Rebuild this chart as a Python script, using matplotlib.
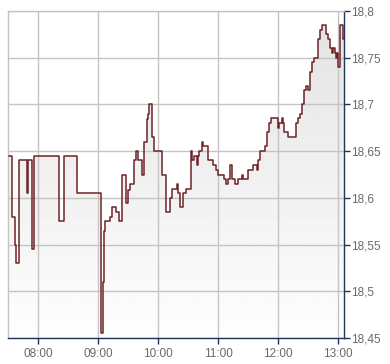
import numpy as np
import matplotlib
matplotlib.use("Agg")
import matplotlib.pyplot as plt
from matplotlib.patches import Polygon

# minutes after 07:30 and price (step changes)
minutes = [1, 3.5, 7.3, 8.3, 11.3, 18.5, 19.5, 24.3, 26.3, 51.3, 55.7, 68.7,
           92.7, 94.7, 95.7, 97.3, 102, 104.3, 108, 111, 114.3, 118.3, 120.3,
           122.3, 126.3, 128.3, 130.3, 134.3, 136.3, 138.7, 140.3, 141.3, 143.7,
           145.7, 153.7, 157.7, 161.7, 164.3, 168.7, 170.3, 172.3, 175.3, 178.3,
           183.3, 184.3, 186.3, 189.3, 190.3, 191.3, 194.3, 195.3, 200.3, 205.3,
           207.7, 210.3, 216.3, 218, 220.3, 222.3, 224.3, 227, 230.3, 233.7,
           235.3, 240.3, 245.3, 249, 250.3, 252.3, 257, 259.3, 261, 263, 270.3,
           271.3, 273.7, 275.3, 276.3, 280.3, 287.7, 289.7, 292, 294.3, 296.3,
           298.3, 299.7, 302, 303.7, 306.3, 310.3, 312, 313.7, 317.7, 320.3,
           322.3, 324, 325, 327, 328, 329, 330.3, 332.3, 335.3, 335.9]
prices = [18.645, 18.58, 18.55, 18.53, 18.64, 18.605, 18.64, 18.545, 18.645,
          18.575, 18.645, 18.605, 18.455, 18.51, 18.565, 18.575, 18.58, 18.59,
          18.585, 18.575, 18.625, 18.595, 18.608, 18.615, 18.64, 18.65, 18.64,
          18.625, 18.66, 18.684, 18.69, 18.7, 18.665, 18.65, 18.625, 18.585,
          18.6, 18.61, 18.615, 18.605, 18.59, 18.605, 18.61, 18.65, 18.64,
          18.645, 18.635, 18.645, 18.65, 18.66, 18.655, 18.64, 18.635, 18.63,
          18.625, 18.62, 18.615, 18.62, 18.635, 18.62, 18.615, 18.62, 18.625,
          18.62, 18.63, 18.635, 18.63, 18.64, 18.65, 18.655, 18.67, 18.68,
          18.685, 18.675, 18.68, 18.685, 18.68, 18.67, 18.665, 18.68, 18.685,
          18.69, 18.7, 18.715, 18.72, 18.715, 18.735, 18.745, 18.75, 18.77,
          18.78, 18.785, 18.775, 18.77, 18.76, 18.755, 18.76, 18.755, 18.75,
          18.755, 18.74, 18.785, 18.77, 18.77]

xtick_pos = [30, 90, 150, 210, 270, 330]
xtick_lab = ["08:00", "09:00", "10:00", "11:00", "12:00", "13:00"]
ytick_pos = [18.45, 18.5, 18.55, 18.6, 18.65, 18.7, 18.75, 18.8]
ytick_lab = ["18,45", "18,5", "18,55", "18,6", "18,65", "18,7", "18,75", "18,8"]

plt.rcParams['font.family'] = ['Liberation Sans', 'DejaVu Sans']

fig = plt.figure(figsize=(3.9, 3.64), dpi=100)
ax = fig.add_axes([8/390, 26/364, 336/390, 327/364])
x0, x1 = 0, 336
y0, y1 = 18.45, 18.8
ax.set_xlim(x0, x1)
ax.set_ylim(y0, y1)

# step polygon for the gradient fill
xs = np.array(minutes)
ys = np.array(prices)
px = np.repeat(xs, 2)[1:]
py = np.repeat(ys, 2)[:-1]
verts = np.column_stack([np.concatenate([[px[0]], px, [px[-1]]]),
                         np.concatenate([[y0], py, [y0]])])
poly = Polygon(verts, closed=True, facecolor='none', edgecolor='none')
ax.add_patch(poly)
grad = np.linspace(0.995, 0.89, 256).reshape(-1, 1)
im = ax.imshow(grad, extent=[x0, x1, y0, y1], origin='lower', aspect='auto',
               cmap='gray', vmin=0, vmax=1, zorder=0.2, interpolation='bilinear')
im.set_clip_path(poly)

ax.step(xs, ys, where='post', color='#6e2327', lw=1.1, zorder=3)

ax.set_xticks(xtick_pos)
ax.set_xticklabels(xtick_lab)
ax.set_yticks(ytick_pos)
ax.set_yticklabels(ytick_lab)
ax.set_axisbelow('line')
ax.grid(True, color='#c4c4c4', lw=1.0)

ax.yaxis.tick_right()
ax.tick_params(axis='both', colors='#1d3557', labelcolor='#6a6a6a',
               labelsize=8.5, length=4, width=1, direction='out')
ax.tick_params(axis='x', pad=3)
ax.tick_params(axis='y', pad=1)
ax.spines['left'].set_color('#c4c4c4')
ax.spines['top'].set_color('#c4c4c4')
ax.spines['right'].set_color('#1d3557')
ax.spines['bottom'].set_color('#1d3557')
for s in ax.spines.values():
    s.set_linewidth(1.0)

fig.savefig("out.png", dpi=100)
